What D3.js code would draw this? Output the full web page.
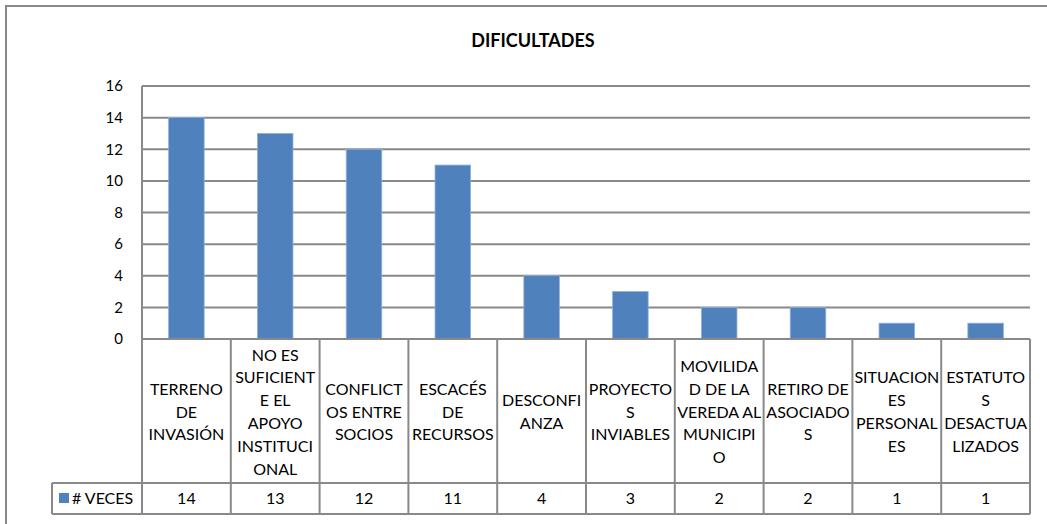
<!DOCTYPE html>
<html>
<head>
<meta charset="utf-8">
<script src="https://cdn.jsdelivr.net/npm/d3@7"></script>
<style>
  body { margin: 0; background: #fff; }
  text { font-family: Lato, "Noto Sans", sans-serif; fill: #000; }
</style>
</head>
<body>
<div id="chart"></div>
<script>
// chart data
const chartTitle = 'DIFICULTADES';
const seriesName = '# VECES';
const categoryLines = [
  ['TERRENO', 'DE', 'INVASIÓN'],
  ['NO ES', 'SUFICIENT', 'E EL', 'APOYO', 'INSTITUCI', 'ONAL'],
  ['CONFLICT', 'OS ENTRE', 'SOCIOS'],
  ['ESCACÉS', 'DE', 'RECURSOS'],
  ['DESCONFI', 'ANZA'],
  ['PROYECTO', 'S', 'INVIABLES'],
  ['MOVILIDA', 'D DE LA', 'VEREDA AL', 'MUNICIPI', 'O'],
  ['RETIRO DE', 'ASOCIADO', 'S'],
  ['SITUACION', 'ES', 'PERSONAL', 'ES'],
  ['ESTATUTO', 'S', 'DESACTUA', 'LIZADOS']
];
const values = [14, 13, 12, 11, 4, 3, 2, 2, 1, 1];
const yTicks = [0, 2, 4, 6, 8, 10, 12, 14, 16];

const width = 1047, height = 524;
const plot = {left: 142, right: 1030, top: 86, bottom: 339};
const headerBottom = 483, tableBottom = 514, legendLeft = 52;
const lineColor = '#898989';
const barColor = '#4f81bd';

const svg = d3.select('#chart').append('svg')
  .attr('width', width)
  .attr('height', height);

// outer chart frame (cut off at right and bottom)
svg.append('path')
  .attr('d', `M6,${height + 2} V6 H${width + 2}`)
  .attr('fill', 'none')
  .attr('stroke', lineColor)
  .attr('stroke-width', 2);

svg.append('text')
  .attr('x', 533)
  .attr('y', 47)
  .attr('text-anchor', 'middle')
  .style('font-weight', 'bold')
  .style('font-size', '18px')
  .text(chartTitle);

const idx = values.map((d, i) => i);
const x = d3.scaleBand()
  .domain(idx)
  .range([plot.left, plot.right])
  .paddingInner(0.6)
  .paddingOuter(0.3);
const step = x.step();

const y = d3.scaleLinear()
  .domain([0, 16])
  .range([plot.bottom, plot.top]);

// gridlines
svg.append('g')
  .selectAll('line')
  .data(yTicks.filter(d => d > 0))
  .enter().append('line')
  .attr('x1', plot.left)
  .attr('x2', plot.right)
  .attr('y1', d => y(d))
  .attr('y2', d => y(d))
  .attr('stroke', lineColor)
  .attr('stroke-width', 2);

// y axis labels
const yAxis = d3.axisLeft(y).tickValues(yTicks).tickSize(0).tickPadding(19);
svg.append('g')
  .attr('transform', `translate(${plot.left},0)`)
  .call(yAxis)
  .call(g => g.select('.domain').remove())
  .selectAll('text')
  .style('font-size', '15px')
  .style('font-family', 'Lato, "Noto Sans", sans-serif')
  .attr('fill', '#000');

// bars
svg.append('g')
  .selectAll('rect')
  .data(values)
  .enter().append('rect')
  .attr('x', (d, i) => x(i))
  .attr('y', d => y(d))
  .attr('width', x.bandwidth())
  .attr('height', d => y(0) - y(d))
  .attr('fill', barColor)
  .attr('stroke', '#8eb0dc')
  .attr('stroke-width', 0.8);

// data table
const table = svg.append('g')
  .attr('stroke', lineColor)
  .attr('stroke-width', 2);
table.append('line')
  .attr('x1', plot.left).attr('x2', plot.right)
  .attr('y1', plot.bottom).attr('y2', plot.bottom);
table.append('line')
  .attr('x1', legendLeft).attr('x2', plot.right)
  .attr('y1', headerBottom).attr('y2', headerBottom);
table.append('line')
  .attr('x1', legendLeft).attr('x2', plot.right)
  .attr('y1', tableBottom).attr('y2', tableBottom);
table.append('line')
  .attr('x1', legendLeft).attr('x2', legendLeft)
  .attr('y1', headerBottom).attr('y2', tableBottom);
// vertical axis line down through the table
table.append('line')
  .attr('x1', plot.left).attr('x2', plot.left)
  .attr('y1', plot.top).attr('y2', tableBottom);
table.selectAll('.col')
  .data(idx)
  .enter().append('line')
  .attr('class', 'col')
  .attr('x1', i => plot.left + (i + 1) * step)
  .attr('x2', i => plot.left + (i + 1) * step)
  .attr('y1', plot.bottom)
  .attr('y2', tableBottom);

// category headers
const lineH = 22.8;
const headerMid = 417.5;
svg.append('g')
  .selectAll('text')
  .data(categoryLines)
  .enter().append('text')
  .attr('text-anchor', 'middle')
  .style('font-size', '16px')
  .each(function(lines, i) {
    const cx = x(i) + x.bandwidth() / 2;
    d3.select(this).selectAll('tspan')
      .data(lines)
      .enter().append('tspan')
      .attr('x', cx)
      .attr('y', (l, j) => headerMid + (j - (lines.length - 1) / 2) * lineH)
      .text(l => l);
  });

// values row
svg.append('g')
  .selectAll('text')
  .data(values)
  .enter().append('text')
  .attr('x', (d, i) => x(i) + x.bandwidth() / 2)
  .attr('y', 504)
  .attr('text-anchor', 'middle')
  .style('font-size', '16px')
  .text(d => d);

// legend key in the table
svg.append('rect')
  .attr('x', 59)
  .attr('y', 493)
  .attr('width', 10)
  .attr('height', 10)
  .attr('fill', barColor);
svg.append('text')
  .attr('x', 72)
  .attr('y', 504)
  .style('font-size', '16px')
  .text(seriesName);
</script>
</body>
</html>
